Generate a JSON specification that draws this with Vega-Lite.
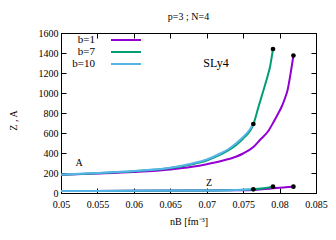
{
  "$schema": "https://vega.github.io/schema/vega-lite/v6.json",
  "width": 255,
  "height": 160,
  "autosize": {"type": "none"},
  "padding": {"left": 61, "top": 33, "right": 20, "bottom": 47},
  "title": {"text": "p=3 ; N=4", "font": "Liberation Serif", "fontSize": 10, "fontWeight": "normal", "offset": 6, "color": "#000"},
  "config": {
    "view": {"stroke": "#000", "strokeWidth": 1},
    "axis": {"grid": false, "labelFlush": false, "labelFont": "Liberation Serif", "labelFontSize": 10, "labelColor": "#000", "titleFont": "Liberation Serif", "titleFontSize": 10, "titleFontWeight": "normal", "titleColor": "#000", "domainColor": "#000", "tickColor": "#000", "tickSize": -5, "labelPadding": 8},
    "legend": {"labelFont": "Liberation Serif", "labelFontSize": 11, "labelColor": "#000"}
  },
  "datasets": {
    "lines": [
      {"b":"b=1","q":"A","n":0.05,"v":183},{"b":"b=1","q":"A","n":0.055,"v":195},{"b":"b=1","q":"A","n":0.06,"v":210},{"b":"b=1","q":"A","n":0.065,"v":235},{"b":"b=1","q":"A","n":0.068,"v":262},{"b":"b=1","q":"A","n":0.07,"v":288},{"b":"b=1","q":"A","n":0.072,"v":320},{"b":"b=1","q":"A","n":0.074,"v":362},{"b":"b=1","q":"A","n":0.075,"v":395},{"b":"b=1","q":"A","n":0.0764,"v":460},{"b":"b=1","q":"A","n":0.0773,"v":530},{"b":"b=1","q":"A","n":0.0785,"v":625},{"b":"b=1","q":"A","n":0.0791,"v":700},{"b":"b=1","q":"A","n":0.0797,"v":780},{"b":"b=1","q":"A","n":0.0803,"v":865},{"b":"b=1","q":"A","n":0.0808,"v":960},{"b":"b=1","q":"A","n":0.0811,"v":1030},{"b":"b=1","q":"A","n":0.0815,"v":1190},{"b":"b=1","q":"A","n":0.0817,"v":1280},{"b":"b=1","q":"A","n":0.0819,"v":1375},
      {"b":"b=1","q":"Z","n":0.05,"v":20},{"b":"b=1","q":"Z","n":0.06,"v":22},{"b":"b=1","q":"Z","n":0.07,"v":25},{"b":"b=1","q":"Z","n":0.074,"v":28},{"b":"b=1","q":"Z","n":0.0764,"v":31},{"b":"b=1","q":"Z","n":0.078,"v":40},{"b":"b=1","q":"Z","n":0.0791,"v":47},{"b":"b=1","q":"Z","n":0.0805,"v":55},{"b":"b=1","q":"Z","n":0.0819,"v":63},
      {"b":"b=7","q":"A","n":0.05,"v":183},{"b":"b=7","q":"A","n":0.055,"v":198},{"b":"b=7","q":"A","n":0.06,"v":218},{"b":"b=7","q":"A","n":0.065,"v":250},{"b":"b=7","q":"A","n":0.068,"v":288},{"b":"b=7","q":"A","n":0.07,"v":325},{"b":"b=7","q":"A","n":0.072,"v":388},{"b":"b=7","q":"A","n":0.074,"v":478},{"b":"b=7","q":"A","n":0.075,"v":545},{"b":"b=7","q":"A","n":0.0764,"v":685},{"b":"b=7","q":"A","n":0.0771,"v":860},{"b":"b=7","q":"A","n":0.0778,"v":1030},{"b":"b=7","q":"A","n":0.0784,"v":1180},{"b":"b=7","q":"A","n":0.0787,"v":1265},{"b":"b=7","q":"A","n":0.0789,"v":1350},{"b":"b=7","q":"A","n":0.0791,"v":1440},
      {"b":"b=7","q":"Z","n":0.05,"v":20},{"b":"b=7","q":"Z","n":0.06,"v":22},{"b":"b=7","q":"Z","n":0.07,"v":25},{"b":"b=7","q":"Z","n":0.074,"v":30},{"b":"b=7","q":"Z","n":0.0764,"v":37},{"b":"b=7","q":"Z","n":0.0778,"v":48},{"b":"b=7","q":"Z","n":0.0791,"v":63},
      {"b":"b=10","q":"A","n":0.05,"v":185},{"b":"b=10","q":"A","n":0.055,"v":200},{"b":"b=10","q":"A","n":0.06,"v":220},{"b":"b=10","q":"A","n":0.065,"v":253},{"b":"b=10","q":"A","n":0.068,"v":295},{"b":"b=10","q":"A","n":0.07,"v":335},{"b":"b=10","q":"A","n":0.072,"v":400},{"b":"b=10","q":"A","n":0.073,"v":440},{"b":"b=10","q":"A","n":0.074,"v":495},{"b":"b=10","q":"A","n":0.075,"v":560},{"b":"b=10","q":"A","n":0.0757,"v":615},{"b":"b=10","q":"A","n":0.0764,"v":690},
      {"b":"b=10","q":"Z","n":0.05,"v":20},{"b":"b=10","q":"Z","n":0.06,"v":22},{"b":"b=10","q":"Z","n":0.07,"v":25},{"b":"b=10","q":"Z","n":0.074,"v":30},{"b":"b=10","q":"Z","n":0.0764,"v":37}
    ],
    "ends": [
      {"n":0.0764,"v":690},{"n":0.0764,"v":37},{"n":0.0791,"v":1440},{"n":0.0791,"v":63},{"n":0.0819,"v":1375},{"n":0.0819,"v":63}
    ],
    "notes": [
      {"n":0.07127,"v":1300,"t":"SLy4","s":12},
      {"n":0.05247,"v":300,"t":"A","s":10},
      {"n":0.07031,"v":100,"t":"Z","s":10}
    ]
  },
  "layer": [
    {
      "data": {"name": "lines"},
      "mark": {"type": "line", "strokeWidth": 2, "interpolate": "monotone"},
      "encoding": {
        "x": {"field": "n", "type": "quantitative", "scale": {"domain": [0.05, 0.085], "nice": false}, "axis": {"title": "nB [fm⁻³]", "values": [0.05,0.055,0.06,0.065,0.07,0.075,0.08,0.085], "format": "~g", "labelPadding": 11, "titlePadding": 7}},
        "y": {"field": "v", "type": "quantitative", "scale": {"domain": [0, 1600], "nice": false}, "axis": {"title": "Z , A", "values": [0,200,400,600,800,1000,1200,1400,1600], "format": "d", "titleY": 87, "titlePadding": 20}},
        "color": {"field": "b", "type": "nominal", "sort": ["b=1","b=7","b=10"], "scale": {"domain": ["b=1","b=7","b=10"], "range": ["#9400d3","#009e73","#56b4e9"]},
          "legend": {"title": null, "orient": "none", "legendX": 59, "legendY": 1, "symbolType": "M-3,0H3", "symbolSize": 100, "symbolStrokeWidth": 2, "labelAlign": "right", "labelOffset": -37, "rowPadding": 1}},
        "detail": {"field": "q"}
      }
    },
    {
      "data": {"name": "ends"},
      "mark": {"type": "point", "filled": true, "color": "#000", "size": 22, "opacity": 1},
      "encoding": {
        "x": {"field": "n", "type": "quantitative", "axis": {"orient": "top", "labels": false, "title": null, "domain": false, "values": [0.05,0.055,0.06,0.065,0.07,0.075,0.08,0.085]}},
        "y": {"field": "v", "type": "quantitative", "axis": {"orient": "right", "labels": false, "title": null, "domain": false, "values": [0,200,400,600,800,1000,1200,1400,1600]}}
      }
    },
    {
      "data": {"name": "notes"},
      "mark": {"type": "text", "font": "Liberation Serif", "color": "#000"},
      "encoding": {
        "x": {"field": "n", "type": "quantitative", "axis": null},
        "y": {"field": "v", "type": "quantitative", "axis": null},
        "text": {"field": "t"},
        "size": {"field": "s", "type": "quantitative", "scale": null}
      }
    }
  ],
  "resolve": {"axis": {"x": "independent", "y": "independent"}}
}
